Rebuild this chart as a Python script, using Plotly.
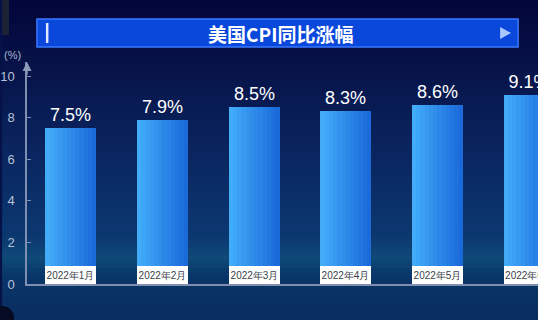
import plotly.graph_objects as go

categories = ["2022年1月", "2022年2月", "2022年3月", "2022年4月", "2022年5月", "2022年6月"]
values = [7.5, 7.9, 8.5, 8.3, 8.6, 9.1]
value_labels = ["7.5%", "7.9%", "8.5%", "8.3%", "8.6%", "9.1%"]
y_ticks = [0, 2, 4, 6, 8, 10]
title_text = "美国CPI同比涨幅"
unit_text = "(%)"

W, H = 538, 320
L, R, T, B = 25, 0, 62, 36
PW, PH = W - L - R, H - T - B


def px(x):
    return (x - L) / PW


def py(y):
    return (H - B - y) / PH


def hexmix(c1, c2, t):
    a = [int(c1[i:i + 2], 16) for i in (1, 3, 5)]
    b = [int(c2[i:i + 2], 16) for i in (1, 3, 5)]
    return "#" + "".join(f"{round(a[i] + (b[i] - a[i]) * t):02x}" for i in range(3))


fig = go.Figure()

bar_w = 0.555
n_slices = 12
left_c, right_c = "#42acf9", "#1a6ad9"
for k in range(n_slices):
    t = k / (n_slices - 1)
    fig.add_trace(go.Bar(
        x=categories, y=values,
        width=bar_w / n_slices + 0.002,
        offset=-bar_w / 2 + k * bar_w / n_slices,
        marker=dict(color=hexmix(left_c, right_c, t), line=dict(width=0)),
        hoverinfo="skip", showlegend=False,
    ))

# value labels
fig.add_trace(go.Bar(
    x=categories, y=values, width=bar_w,
    marker=dict(color="rgba(0,0,0,0)", line=dict(width=0)),
    text=value_labels, textposition="outside",
    textfont=dict(color="white", size=18, family="Liberation Sans"),
    cliponaxis=False, showlegend=False,
))

# category label boxes
fig.add_trace(go.Bar(
    x=categories, y=[0.87] * len(categories), width=bar_w,
    marker=dict(color="white", line=dict(width=0)),
    text=categories, textposition="inside", insidetextanchor="middle",
    constraintext="none",
    textfont=dict(color="#3a3f4c", size=10, family="Liberation Sans"),
    showlegend=False,
))

shapes = []
# background gradient
stops = [(0, "#03063a"), (60, "#061247"), (150, "#0a2560"), (235, "#0b3870"),
         (255, "#0e4a78"), (275, "#0a3568"), (320, "#0a2c5e")]
for y in range(0, H, 4):
    for i in range(len(stops) - 1):
        if stops[i][0] <= y <= stops[i + 1][0]:
            t = (y - stops[i][0]) / (stops[i + 1][0] - stops[i][0])
            c = hexmix(stops[i][1], stops[i + 1][1], t)
            break
    shapes.append(dict(type="rect", xref="paper", yref="paper", layer="below",
                       x0=px(0), x1=px(W), y0=py(y + 4.5), y1=py(y),
                       fillcolor=c, line=dict(width=0)))

# title bar
shapes.append(dict(type="rect", xref="paper", yref="paper",
                   x0=px(35), x1=px(518), y0=py(47), y1=py(19),
                   fillcolor="#0a48dc", line=dict(color="#3a78ff", width=1.5)))
shapes.append(dict(type="rect", xref="paper", yref="paper",
                   x0=px(44), x1=px(46.5), y0=py(43), y1=py(23),
                   fillcolor="#dfe8ff", line=dict(width=0)))
shapes.append(dict(type="path", xref="paper", yref="paper",
                   path=f"M {px(500)} {py(27)} L {px(511)} {py(33)} L {px(500)} {py(39)} Z",
                   fillcolor="#a8c8ff", line=dict(width=0)))
# corner decorations
shapes.append(dict(type="rect", xref="paper", yref="paper",
                   x0=px(0), x1=px(7), y0=py(35), y1=py(0),
                   fillcolor="#1c2236", line=dict(width=0)))
shapes.append(dict(type="circle", xref="paper", yref="paper",
                   x0=px(-12), x1=px(12), y0=py(330), y1=py(306),
                   fillcolor="#060a22", line=dict(width=0)))

annotations = [
    dict(text="<b>" + title_text + "</b>", xref="paper", yref="paper", x=px(279), y=py(33),
         showarrow=False, font=dict(color="white", size=19, family="Noto Sans CJK SC"),
         xanchor="center", yanchor="middle"),
    dict(text=unit_text, xref="paper", yref="paper", x=px(0), y=py(55),
         showarrow=False, font=dict(color="#a8b4cc", size=11, family="Liberation Sans"),
         xanchor="left", yanchor="middle"),
    dict(text="", xref="paper", yref="paper", x=0, y=1.0, ax=0, ay=14,
         showarrow=True, arrowhead=2, arrowsize=1.2, arrowwidth=1.5, arrowcolor="#8d9bb8"),
]

x_lo = (L - 69) / 92
x_hi = (W - 69) / 92

fig.update_layout(
    width=W, height=H,
    margin=dict(l=L, r=R, t=T, b=B, pad=0),
    barmode="overlay", bargap=0,
    paper_bgcolor="#061247", plot_bgcolor="rgba(0,0,0,0)",
    shapes=shapes, annotations=annotations,
    showlegend=False,
    xaxis=dict(range=[x_lo, x_hi], showticklabels=False, showgrid=False, zeroline=False,
               showline=True, linecolor="#7f8fb0", linewidth=1.5, ticks=""),
    yaxis=dict(range=[0, PH / 20.8], tickvals=y_ticks, showgrid=False, zeroline=False,
               showline=True, linecolor="#7f8fb0", linewidth=1.5,
               ticks="inside", ticklen=4, tickcolor="#7f8fb0",
               tickfont=dict(color="#b8c2d6", size=13, family="Liberation Sans"),
               ticklabelstandoff=8),
)

fig.write_html("out.html")
